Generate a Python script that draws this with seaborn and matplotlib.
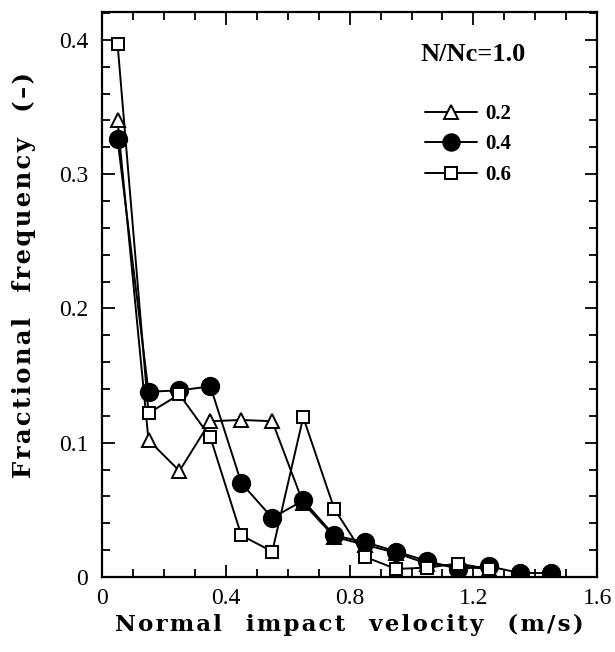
import matplotlib
matplotlib.use("Agg")
import matplotlib.pyplot as plt
from matplotlib.ticker import MultipleLocator, FixedLocator, FixedFormatter
import seaborn as sns
import pandas as pd
from matplotlib.lines import Line2D

# ---- data ----
velocity = [0.05, 0.15, 0.25, 0.35, 0.45, 0.55, 0.65, 0.75, 0.85, 0.95, 1.05, 1.15, 1.25, 1.35, 1.45]
freq_02 = [0.340, 0.102, 0.079, 0.116, 0.117, 0.116, 0.055, 0.030, 0.024, 0.018, 0.010, 0.008, 0.006, None, None]
freq_04 = [0.326, 0.138, 0.139, 0.142, 0.070, 0.044, 0.057, 0.031, 0.026, 0.019, 0.012, 0.006, 0.008, 0.003, 0.003]
freq_06 = [0.397, 0.122, 0.136, 0.104, 0.031, 0.019, 0.119, 0.051, 0.015, 0.006, 0.007, 0.010, 0.006, None, None]
series_labels = ["0.2", "0.4", "0.6"]
xtick_vals = [0, 0.4, 0.8, 1.2, 1.6]
xtick_labels = ["0", "0.4", "0.8", "1.2", "1.6"]
ytick_vals = [0, 0.1, 0.2, 0.3, 0.4]
ytick_labels = ["0", "0.1", "0.2", "0.3", "0.4"]
title_text = "N/Nc=1.0"
xlabel = "Normal impact velocity (m/s)"
ylabel = "Fractional frequency (\u2013)"


def spaced(s):
    # wide letter spacing as in the printed original
    words = s.split(" ")
    return "   ".join("\u200a".join(w) for w in words)


sns.set_theme(style="ticks")
plt.rcParams["font.family"] = ["Liberation Serif", "DejaVu Serif"]
plt.rcParams["text.color"] = "black"
plt.rcParams["axes.labelcolor"] = "black"
plt.rcParams["xtick.color"] = "black"
plt.rcParams["ytick.color"] = "black"

fig = plt.figure(figsize=(6.15, 6.52), dpi=100)
ax = fig.add_axes([0.166, 0.115, 0.805, 0.867])

styles = [
    dict(marker="^", markersize=10, markerfacecolor="white"),
    dict(marker="o", markersize=12.5, markerfacecolor="black"),
    dict(marker="s", markersize=9, markerfacecolor="white"),
]
handles = []
for vals, lab, st in zip([freq_02, freq_04, freq_06], series_labels, styles):
    df = pd.DataFrame({"v": velocity, "f": vals}).dropna()
    sns.lineplot(data=df, x="v", y="f", ax=ax, color="black", lw=1.4,
                 markeredgecolor="black", markeredgewidth=1.4, **st)
    hst = dict(st)
    hst["markersize"] = st["markersize"] * 0.95
    handles.append(Line2D([], [], color="black", lw=1.4, markeredgecolor="black",
                          markeredgewidth=1.4, **hst))

ax.set_xlim(0, 1.6)
ax.set_ylim(0, 0.421)
ax.xaxis.set_major_locator(FixedLocator(xtick_vals))
ax.xaxis.set_major_formatter(FixedFormatter(xtick_labels))
ax.yaxis.set_major_locator(FixedLocator(ytick_vals))
ax.yaxis.set_major_formatter(FixedFormatter(ytick_labels))
ax.xaxis.set_minor_locator(MultipleLocator(0.1))
ax.yaxis.set_minor_locator(MultipleLocator(0.02))
ax.tick_params(which="both", direction="in", top=True, right=True, width=1.3,
               colors="black", labelcolor="black")
ax.tick_params(which="major", length=9, labelsize=17)
ax.tick_params(axis="y", which="major", pad=10)
ax.tick_params(axis="x", which="major", pad=8)
ax.tick_params(which="minor", length=6)
for s in ax.spines.values():
    s.set_linewidth(1.6)
    s.set_color("black")

lab_font = ["DejaVu Serif"]
ax.set_xlabel(spaced(xlabel), fontsize=16.5, fontweight="bold", va="center",
              family=lab_font, color="black")
ax.set_ylabel(spaced(ylabel), fontsize=17.5, fontweight="bold", va="center",
              family=lab_font, color="black")
ax.xaxis.set_label_coords(0.5, -0.085)
ax.yaxis.set_label_coords(-0.158, 0.535)

ax.text(0.75, 0.924, title_text, transform=ax.transAxes, fontsize=19,
        fontweight="bold", ha="center", va="center", color="black")
leg = ax.legend(handles, series_labels, loc="upper left", bbox_to_anchor=(0.615, 0.87),
                frameon=False, handlelength=2.5, labelspacing=0.5, handletextpad=0.4,
                prop=dict(size=15, weight="bold"))
for t in leg.get_texts():
    t.set_color("black")

fig.savefig("out.png", dpi=100)
